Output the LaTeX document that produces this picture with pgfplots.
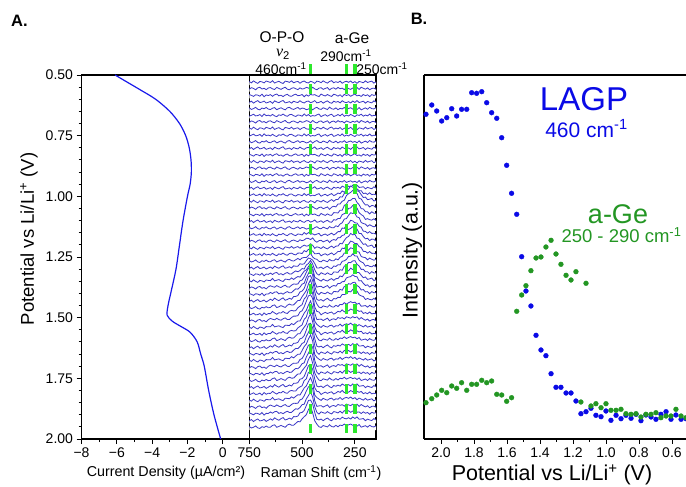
\documentclass[border=0pt]{standalone}
\usepackage{fontspec}
\setmainfont{Liberation Sans}
\newfontfamily\serifit{Liberation Serif}
\usepackage{pgfplots}
\usepackage{pgfplotstable}
\pgfplotsset{compat=1.18}

\definecolor{curveblue}{RGB}{25,25,235}
\definecolor{tracecol}{RGB}{58,55,198}
\definecolor{dashgreen}{RGB}{45,232,45}
\definecolor{dotblue}{RGB}{10,10,230}
\definecolor{dotgreen}{RGB}{35,150,35}

% current density vs potential
\pgfplotstableread{
V I
0.500 -6.10
0.530 -5.40
0.560 -4.70
0.600 -3.80
0.650 -3.00
0.700 -2.45
0.750 -2.10
0.800 -1.90
0.850 -1.80
0.900 -1.78
0.950 -1.85
1.000 -2.00
1.100 -2.25
1.200 -2.45
1.300 -2.65
1.400 -2.95
1.450 -3.10
1.490 -3.15
1.515 -2.85
1.535 -2.40
1.560 -1.85
1.600 -1.45
1.650 -1.25
1.700 -1.05
1.800 -0.80
1.900 -0.50
2.000 -0.12
}\current

% raman spectrum components (px): noise patterns, a-Ge band, LAGP band; last two rows close the white fill
\pgfplotstableread{
x na nb nc ge lp cl
750 0.3 -0.4 0.6 0 0 0
740 -0.5 0.6 0.0 0 0 0
730 0.8 0.1 -0.7 0 0 0
720 -0.2 -0.8 0.4 0 0 0
710 -0.9 0.5 0.2 0 0 0
700 0.4 0.9 -0.5 0 0 0
690 0.1 -0.3 0.8 0 0 0
680 -0.6 0.2 -0.9 0 0 0
670 0.7 -0.7 0.3 0 0 0
660 0.2 0.4 -0.1 0 0.02 0
650 -0.3 0.7 0.5 0 0.05 0
640 0.9 -0.2 -0.6 0 0.07 0
630 -0.7 -0.6 0.4 0 0.07 0
620 0.0 0.8 0.9 0 0.05 0
610 0.5 0.1 -0.3 0 0.04 0
600 -0.4 -0.5 0.1 0 0.05 0
590 -1.0 0.3 -0.8 0 0.06 0
580 0.6 0.9 0.2 0 0.06 0
570 0.3 -0.4 0.7 0 0.07 0
560 -0.2 -0.8 -0.4 0 0.09 0
550 0.8 0.2 -0.6 0 0.11 0
540 -0.5 0.6 0.3 0 0.14 0
530 0.1 -0.1 0.8 0 0.18 0
520 0.4 -0.7 -0.2 0 0.23 0
510 -0.8 0.5 0.0 0 0.30 0
500 0.2 -0.3 0.6 0 0.39 0
490 0.7 0.0 -0.9 0 0.52 0
480 -0.3 0.8 0.4 0 0.68 0
470 -0.6 0.4 -0.5 0 0.90 0
460 0.5 -0.6 0.7 0 1.00 0
450 0.0 0.9 0.2 0 0.78 0
440 -0.9 -0.2 0.5 0 0.30 0
430 0.6 -0.8 -0.3 0 0.09 0
420 0.3 0.3 -0.8 0 0.04 0
410 -0.4 0.6 0.9 0 0.03 0
400 0.8 -0.5 0.1 0 0.04 0
390 -0.1 0.1 -0.4 0 0.05 0
380 -0.7 0.7 0.6 0 0.06 0
370 0.4 -0.9 -0.2 0 0.05 0
360 0.9 0.2 -0.7 0.03 0.04 0
350 -0.5 0.5 0.8 0.06 0.04 0
340 0.2 -0.4 0.3 0.10 0.05 0
330 -0.3 0.8 -0.5 0.16 0.06 0
320 0.6 -0.1 0.4 0.25 0.07 0
310 -0.8 0.3 -0.9 0.37 0.06 0
300 0.1 -0.7 0.7 0.52 0.05 0
290 0.5 0.6 -0.1 0.68 0.04 0
280 -0.2 0.0 0.5 0.84 0.03 0
270 0.7 -0.5 -0.6 0.96 0.02 0
260 -0.6 0.4 0.2 1.00 0.02 0
250 0.3 -0.2 0.9 0.94 0.02 0
240 -0.9 0.7 -0.3 0.80 0.02 0
230 0.4 -0.6 0.1 0.62 0.02 0
220 0.0 0.9 -0.7 0.45 0.02 0
210 -0.5 0.2 0.6 0.31 0.02 0
200 0.8 -0.4 -0.2 0.21 0.02 0
190 -0.3 0.5 0.4 0.15 0.02 0
180 0.2 -0.8 -0.8 0.13 0.02 0
170 0.6 0.1 0.5 0.14 0.02 0
160 -0.7 0.3 0.0 0.10 0.02 0
150 0.1 -0.5 0.3 0.06 0.02 0
150 0 0 0 0 0 3
750 0 0 0 0 0 3
}\spec

% panel B, intensity in px above the axis bottom
\pgfplotstableread{
V y
2.091 324.7
2.056 334
2.026 328
1.996 318
1.965 321.3
1.935 330.3
1.905 323
1.875 329.7
1.844 329.7
1.814 346.3
1.784 345.7
1.753 347.3
1.723 336.3
1.693 326.3
1.662 320.7
1.632 301.3
1.602 273.7
1.572 245.7
1.541 224.7
1.511 182.3
1.485 148
1.455 133
1.424 103.7
1.394 89
1.364 83.3
1.333 65.3
1.303 51.7
1.273 51.7
1.242 46
1.212 46
1.182 38
1.152 25.3
1.121 27.3
1.091 30.7
1.061 23.7
1.030 22.3
1.000 28
0.970 18.7
0.939 23.7
0.909 20.3
0.879 23.7
0.848 20.7
0.818 24.7
0.788 18.3
0.758 24
0.727 22
0.697 19.7
0.667 24.7
0.636 27.3
0.606 19.7
0.576 24
0.545 19.7
0.515 20.3
}\lagp

\pgfplotstableread{
V y
2.091 36.3
2.056 40.3
2.026 44
1.996 48.7
1.965 46.3
1.935 53
1.905 50.7
1.875 56.3
1.844 48.7
1.814 54.7
1.784 54.7
1.753 58.7
1.723 56.3
1.693 58
1.662 44.7
1.632 44
1.602 37.7
1.572 41.3
1.541 127.7
1.511 144
1.485 153.3
1.455 168.3
1.424 181
1.394 182
1.364 192
1.333 198.7
1.303 185
1.273 174.7
1.242 163.7
1.212 159
1.182 167.3
1.121 155.7
1.152 37
1.091 33
1.061 35.3
1.030 31.3
1.000 35.3
0.970 28.7
0.939 28.7
0.909 29.7
0.879 25.3
0.848 24.7
0.818 25.3
0.788 22
0.758 24.7
0.727 24.7
0.697 26.3
0.667 21.3
0.636 23
0.606 23
0.576 29.7
0.545 23
0.515 21.3
}\age

\begin{document}
\begin{tikzpicture}[x=1pt,y=1pt]
\useasboundingbox (0,0) rectangle (686,487);
\pgfplotsset{
  every axis/.append style={
    scale only axis, height=364pt, anchor=south west,
    tick align=outside, major tick length=5pt, minor tick length=3pt,
    axis line style={line width=1.1pt}, every tick/.style={black, line width=0.9pt},
    tick label style={font=\fontsize{14}{16}\selectfont},
    /pgf/number format/assume math mode=true,
  },
}

% A: current density
\begin{axis}[at={(81.5pt,48pt)}, width=167.8pt,
  xmin=-8, xmax=1.5, ymin=0.5, ymax=2, y dir=reverse,
  xtick={-8,-6,-4,-2,0}, xticklabels={−8,−6,−4,−2,0}, minor x tick num=1,
  ytick={0.5,0.75,1,1.25,1.5,1.75,2}, minor y tick num=4,
  yticklabel style={/pgf/number format/.cd, fixed, fixed zerofill, precision=2},
  xtick pos=bottom, ytick pos=left]
\addplot[curveblue, line width=1.2pt, smooth] table[x=I, y=V] {\current};
\end{axis}

% A: stacked raman spectra
\begin{axis}[at={(249.3pt,48pt)}, width=126.7pt,
  xmin=150, xmax=750, x dir=reverse, ymin=0.5, ymax=2, y dir=reverse,
  xtick={750,500,250}, minor x tick num=1, ytick=\empty,
  xtick pos=bottom, clip=false]
\foreach \vv/\gv/\lv/\nv/\sv in {
0.529/0/0/na/-, 0.556/0/0/nb/-, 0.584/0/0/nc/-, 0.611/0/0/na/+, 0.638/0/0/nb/+,
0.666/0/0/nc/+, 0.693/0/0/nb/-, 0.720/0/0/na/-, 0.748/0/0/nc/+, 0.775/0/0/nb/+,
0.802/0/0/na/+, 0.830/0/0/nc/-, 0.857/0/0/na/-, 0.884/0/0/nb/-, 0.912/0/0/nc/-,
0.939/0/0/nb/+, 0.966/2/0/na/+, 0.994/7/0/nc/+, 1.021/15/0/na/-, 1.048/17/0/nb/-,
1.076/16/0/nc/-, 1.103/15/0/na/+, 1.130/15/0/nb/+, 1.158/14/1.5/nc/+, 1.185/14/2.5/nb/-,
1.213/14/3.5/na/-, 1.240/13/5/nc/+, 1.267/13/7/nb/+, 1.295/13/10/na/+, 1.322/13/13/nc/-,
1.349/12/17/na/-, 1.377/12/21/nb/-, 1.404/11/24/nc/-, 1.431/10/26/na/+, 1.459/5/27/nb/+,
1.486/4/27/nc/+, 1.513/3/27/nb/-, 1.541/3/26/na/-, 1.568/3/26/nc/+, 1.595/3/26/nb/+,
1.623/2.5/25/na/+, 1.650/2.5/25/nc/-, 1.677/2.5/25/na/-, 1.705/2.5/24/nb/-, 1.732/2/24/nc/-,
1.759/2/24/nb/+, 1.787/2/23/na/+, 1.814/2/23/nc/+, 1.841/2/22/na/-, 1.869/2/22/nb/-,
1.896/2/21/nc/-, 1.923/2/21/na/+, 1.951/2/20/nb/+}{%
  \edef\temp{%
    \noexpand\addplot[draw=none, fill=white] table[x=x, y expr={\vv+0.004121*(\noexpand\thisrow{cl}\sv1.5*\noexpand\thisrow{\nv}-\gv*\noexpand\thisrow{ge}-\lv*\noexpand\thisrow{lp})}] {\noexpand\spec};
    \noexpand\addplot[tracecol, line width=0.8pt, skip coords between index={61}{63}] table[x=x, y expr={\vv+0.004121*(\noexpand\thisrow{cl}\sv1.5*\noexpand\thisrow{\nv}-\gv*\noexpand\thisrow{ge}-\lv*\noexpand\thisrow{lp})}] {\noexpand\spec};
  }\temp
}
\addplot[dashgreen, line width=3.8pt, dash pattern=on 10pt off 10pt] coordinates {(460,0.455) (460,1.975)};
\addplot[dashgreen, line width=3.8pt, dash pattern=on 10pt off 10pt] coordinates {(290,0.455) (290,1.975)};
\addplot[dashgreen, line width=3.8pt, dash pattern=on 10pt off 10pt] coordinates {(250,0.455) (250,1.975)};
\end{axis}

% B: band intensities
\begin{axis}[at={(424pt,48pt)}, width=262pt,
  xmin=0.515, xmax=2.103, x dir=reverse, ymin=0, ymax=364,
  axis x line=box, axis y line=left, x axis line style={-}, y axis line style={-},
  xtick={0.6,0.8,1.0,1.2,1.4,1.6,1.8,2.0}, minor x tick num=1,
  xticklabel style={/pgf/number format/.cd, fixed, fixed zerofill, precision=1},
  ytick=\empty, xtick pos=bottom]
\addplot[only marks, mark=*, mark size=2.4pt, dotblue] table[x=V, y=y] {\lagp};
\addplot[only marks, mark=*, mark size=2.4pt, dotgreen] table[x=V, y=y] {\age};
\end{axis}

% labels
\node[font=\fontsize{16.5}{18}\selectfont\bfseries, inner sep=0] at (19.5,466) {A.};
\node[font=\fontsize{16.5}{18}\selectfont\bfseries, inner sep=0] at (419,468) {B.};
\node[font=\fontsize{18.5}{20}\selectfont, rotate=90, inner sep=0] at (29,248) {Potential vs Li/Li\textsuperscript{+} (V)};
\node[font=\fontsize{14.3}{16}\selectfont, inner sep=0] at (166,14) {Current Density (µA/cm²)};
\node[font=\fontsize{14.3}{16}\selectfont, inner sep=0] at (321,14) {Raman Shift (cm\textsuperscript{-1})};
\node[font=\fontsize{21.5}{24}\selectfont, inner sep=0] at (552,12) {Potential vs Li/Li\textsuperscript{+} (V)};
\node[font=\fontsize{21.5}{24}\selectfont, rotate=90, inner sep=0] at (412,237) {Intensity (a.u.)};
\node[font=\fontsize{33}{36}\selectfont, text=dotblue, inner sep=0] at (584,387.5) {LAGP};
\node[font=\fontsize{21}{24}\selectfont, text=dotblue, inner sep=0] at (586.5,358.5) {460 cm\textsuperscript{-1}};
\node[font=\fontsize{27}{30}\selectfont, text=dotgreen, inner sep=0] at (618,273) {a-Ge};
\node[font=\fontsize{18.5}{20}\selectfont, text=dotgreen, inner sep=0] at (621.5,251.5) {250 - 290 cm\textsuperscript{-1}};
\node[font=\fontsize{15.5}{17}\selectfont, inner sep=0] at (282,450) {O-P-O};
\node[font=\fontsize{16}{18}\selectfont, inner sep=0] at (283,432.5) {{\serifit\itshape ν}\textsubscript{2}};
\node[font=\fontsize{14}{16}\selectfont, inner sep=0] at (281,418) {460cm\textsuperscript{-1}};
\node[font=\fontsize{15.5}{17}\selectfont, inner sep=0] at (352,449) {a-Ge};
\node[font=\fontsize{14}{16}\selectfont, inner sep=0] at (346,431) {290cm\textsuperscript{-1}};
\node[font=\fontsize{14}{16}\selectfont, inner sep=0] at (382,418) {250cm\textsuperscript{-1}};
\end{tikzpicture}
\end{document}
